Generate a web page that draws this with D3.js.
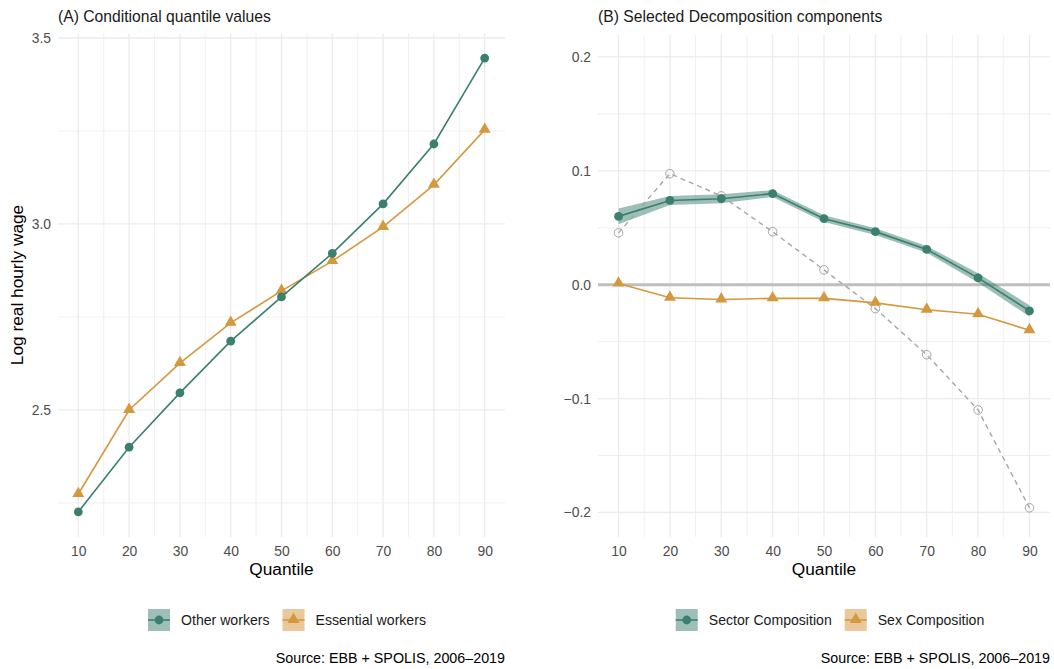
<!DOCTYPE html>
<html>
<head>
<meta charset="utf-8">
<script src="https://cdn.jsdelivr.net/npm/d3@7"></script>
<style>
  html, body { margin: 0; padding: 0; background: #fff; }
  svg { display: block; font-family: "Liberation Sans", Arial, Helvetica, sans-serif; }
</style>
</head>
<body>
<svg id="chart" width="1054" height="669"></svg>
<script>
// ---------------- DATA ----------------
const quantiles = [10, 20, 30, 40, 50, 60, 70, 80, 90];
const xTicks = [10, 20, 30, 40, 50, 60, 70, 80, 90];

// Panel A: conditional quantile values (log real hourly wage)
const otherWorkers     = [2.226, 2.400, 2.546, 2.685, 2.804, 2.921, 3.054, 3.215, 3.446];
const essentialWorkers = [2.274, 2.500, 2.626, 2.734, 2.820, 2.900, 2.992, 3.105, 3.253];
const yTicksA = [2.5, 3.0, 3.5];

// Panel B: decomposition components
const sectorComp      = [0.060, 0.074, 0.0755, 0.080, 0.058, 0.0466, 0.031, 0.006, -0.023];
const sectorLower     = [0.053, 0.070, 0.0715, 0.077, 0.055, 0.0436, 0.028, 0.002, -0.028];
const sectorUpper     = [0.067, 0.078, 0.0795, 0.083, 0.061, 0.0496, 0.034, 0.010, -0.018];
const sexComp         = [0.001, -0.0115, -0.013, -0.012, -0.012, -0.016, -0.022, -0.026, -0.040];
const totalComp       = [0.0455, 0.0975, 0.078, 0.0465, 0.013, -0.021, -0.0615, -0.110, -0.196];
const yTicksB = [-0.2, -0.1, 0.0, 0.1, 0.2];

const legendA = ["Other workers", "Essential workers"];
const legendB = ["Sector Composition", "Sex Composition"];
const caption = "Source: EBB + SPOLIS, 2006\u20132019";

// ---------------- STYLE ----------------
const GREEN = "#3b7f6f";
const ORANGE = "#d4983f";
const GREEN_FILL = "#9dbfb7";
const ORANGE_FILL = "#e9c99b";
const GRID = "#ebebeb";
const TICK_TXT = "#4d4d4d";

const svg = d3.select("#chart");

function panel(opts) {
  const { left, right, top, bottom, xDomain, yDomain, yTicks, yMinor, yFmt, title } = opts;
  const x = d3.scaleLinear().domain(xDomain).range([left, right]);
  const y = d3.scaleLinear().domain(yDomain).range([bottom, top]);
  const g = svg.append("g");

  // grid
  const xMinor = d3.range(15, 90, 10);
  g.selectAll(null).data(xMinor).join("line")
    .attr("x1", d => x(d)).attr("x2", d => x(d)).attr("y1", top).attr("y2", bottom)
    .attr("stroke", GRID).attr("stroke-width", 0.8);
  g.selectAll(null).data(yMinor).join("line")
    .attr("y1", d => y(d)).attr("y2", d => y(d)).attr("x1", left).attr("x2", right)
    .attr("stroke", GRID).attr("stroke-width", 0.8);
  g.selectAll(null).data(xTicks).join("line")
    .attr("x1", d => x(d)).attr("x2", d => x(d)).attr("y1", top).attr("y2", bottom)
    .attr("stroke", GRID).attr("stroke-width", 1.3);
  g.selectAll(null).data(yTicks).join("line")
    .attr("y1", d => y(d)).attr("y2", d => y(d)).attr("x1", left).attr("x2", right)
    .attr("stroke", GRID).attr("stroke-width", 1.3);

  // axes (text only, via d3 axes)
  const ax = g.append("g").attr("transform", `translate(0,${bottom})`)
    .call(d3.axisBottom(x).tickValues(xTicks).tickSize(0).tickPadding(9));
  ax.select(".domain").remove();
  ax.selectAll("text").attr("fill", TICK_TXT).attr("font-size", 13.9)
    .attr("font-family", "Liberation Sans, Arial, sans-serif");
  const ay = g.append("g").attr("transform", `translate(${left},0)`)
    .call(d3.axisLeft(y).tickValues(yTicks).tickFormat(yFmt).tickSize(0).tickPadding(7));
  ay.select(".domain").remove();
  ay.selectAll("text").attr("fill", TICK_TXT).attr("font-size", 13.9)
    .attr("font-family", "Liberation Sans, Arial, sans-serif");

  g.append("text").attr("x", (left + right) / 2).attr("y", 575)
    .attr("text-anchor", "middle").attr("font-size", 17.3).attr("fill", "#000")
    .text("Quantile");
  g.append("text").attr("x", left).attr("y", 22)
    .attr("font-size", 15.7).attr("fill", "#1a1a1a").text(title);
  g.append("text").attr("x", right).attr("y", 663)
    .attr("text-anchor", "end").attr("font-size", 14.3).attr("fill", "#000").text(caption);
  return { g, x, y };
}

function drawSeries(g, x, y, vals, color, shape) {
  const line = d3.line().x((d, i) => x(quantiles[i])).y(d => y(d));
  g.append("path").datum(vals).attr("d", line).attr("fill", "none")
    .attr("stroke", color).attr("stroke-width", 1.6);
  if (shape === "circle") {
    g.selectAll(null).data(vals).join("circle")
      .attr("cx", (d, i) => x(quantiles[i])).attr("cy", d => y(d)).attr("r", 4.4)
      .attr("fill", color);
  } else {
    const sym = d3.symbol().type(d3.symbolTriangle).size(62);
    g.selectAll(null).data(vals).join("path")
      .attr("transform", (d, i) => `translate(${x(quantiles[i])},${y(d) - 0.5})`)
      .attr("d", sym).attr("fill", color);
  }
}

function legend(cx, labels) {
  const g = svg.append("g");
  const keyW = 22, gapKT = 11, gapItems = 13;
  const tmp = svg.append("g");
  const widths = labels.map(l => {
    const t = tmp.append("text").attr("font-size", 14.1).text(l);
    return t.node().getComputedTextLength();
  });
  tmp.remove();
  const total = widths.reduce((a, w) => a + keyW + gapKT + w, 0) + gapItems;
  let xx = cx - total / 2;
  const yc = 620;
  labels.forEach((l, i) => {
    const color = i === 0 ? GREEN : ORANGE;
    const fill = i === 0 ? GREEN_FILL : ORANGE_FILL;
    g.append("rect").attr("x", xx).attr("y", yc - 11).attr("width", keyW).attr("height", keyW).attr("fill", fill);
    g.append("line").attr("x1", xx).attr("x2", xx + keyW).attr("y1", yc).attr("y2", yc)
      .attr("stroke", color).attr("stroke-width", 1.6);
    if (i === 0) {
      g.append("circle").attr("cx", xx + keyW / 2).attr("cy", yc).attr("r", 4.4).attr("fill", color);
    } else {
      g.append("path").attr("transform", `translate(${xx + keyW / 2},${yc - 0.5})`)
        .attr("d", d3.symbol().type(d3.symbolTriangle).size(62)).attr("fill", color);
    }
    g.append("text").attr("x", xx + keyW + gapKT).attr("y", yc + 5).attr("font-size", 14.1)
      .attr("fill", "#1a1a1a").text(l);
    xx += keyW + gapKT + widths[i] + gapItems;
  });
}

// ---------------- PANEL A ----------------
const A = panel({
  left: 58, right: 505, top: 33.7, bottom: 537,
  xDomain: [6, 94], yDomain: [2.1585, 3.5115],
  yTicks: yTicksA, yMinor: [2.25, 2.75, 3.25], yFmt: d3.format(".1f"),
  title: "(A) Conditional quantile values"
});
svg.append("text").attr("transform", "translate(23,285) rotate(-90)")
  .attr("text-anchor", "middle").attr("font-size", 17.3).attr("fill", "#000")
  .text("Log real hourly wage");
drawSeries(A.g, A.x, A.y, essentialWorkers, ORANGE, "triangle");
drawSeries(A.g, A.x, A.y, otherWorkers, GREEN, "circle");
legend(287, legendA);

// ---------------- PANEL B ----------------
const B = panel({
  left: 598, right: 1050, top: 35, bottom: 537,
  xDomain: [6, 94], yDomain: [-0.2216, 0.2193],
  yTicks: yTicksB, yMinor: [-0.15, -0.05, 0.05, 0.15],
  yFmt: d => d === 0 ? "0.0" : d3.format(".1f")(d).replace("-", "\u2212"),
  title: "(B) Selected Decomposition components"
});
B.g.append("line").attr("x1", 598).attr("x2", 1050).attr("y1", B.y(0)).attr("y2", B.y(0))
  .attr("stroke", "#bebebe").attr("stroke-width", 3);
// band
const area = d3.area().x((d, i) => B.x(quantiles[i]))
  .y0((d, i) => B.y(sectorLower[i])).y1((d, i) => B.y(sectorUpper[i]));
B.g.append("path").datum(sectorComp).attr("d", area).attr("fill", GREEN).attr("fill-opacity", 0.5);
// total (dashed grey)
const lineB = d3.line().x((d, i) => B.x(quantiles[i])).y(d => B.y(d));
B.g.append("path").datum(totalComp).attr("d", lineB).attr("fill", "none")
  .attr("stroke", "#a6a6a6").attr("stroke-width", 1.4).attr("stroke-dasharray", "5,4");
B.g.selectAll(null).data(totalComp).join("circle")
  .attr("cx", (d, i) => B.x(quantiles[i])).attr("cy", d => B.y(d)).attr("r", 4.3)
  .attr("fill", "none").attr("stroke", "#a6a6a6").attr("stroke-width", 1);
drawSeries(B.g, B.x, B.y, sexComp, ORANGE, "triangle");
drawSeries(B.g, B.x, B.y, sectorComp, GREEN, "circle");
legend(830, legendB);
</script>
</body>
</html>
